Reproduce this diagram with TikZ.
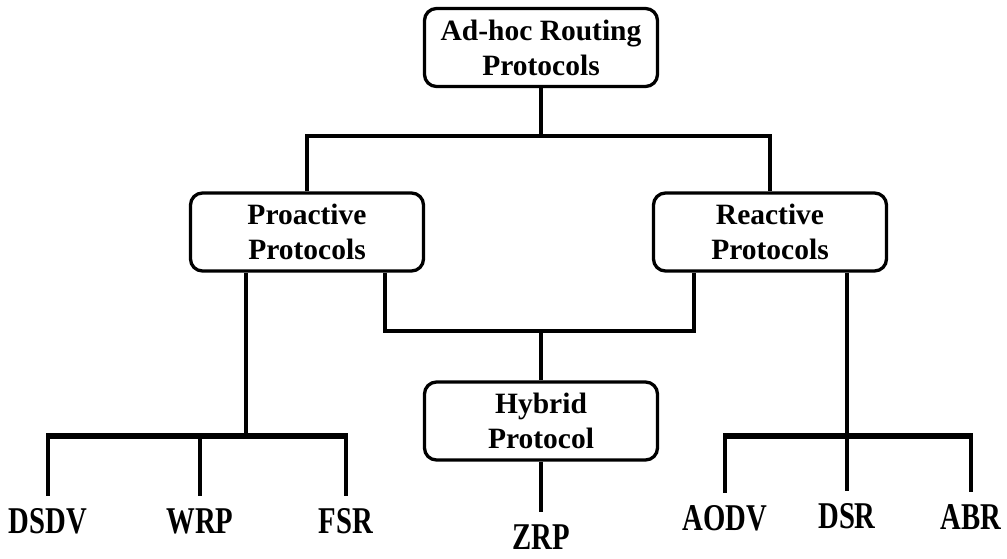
\documentclass[tikz,border=0pt]{standalone}
\usepackage{fontspec}
\setmainfont{Liberation Serif}
\newfontfamily\leaffont[FakeStretch=0.76]{Liberation Serif}
\tikzset{
protbox/.style={draw, line width=3.3pt, rounded corners=12pt, align=center,
  minimum width=233pt, minimum height=78pt, inner sep=0pt,
  font=\fontsize{29.5}{35}\selectfont\bfseries},
leaf/.style={inner sep=1pt, font=\leaffont\fontsize{37.8}{40}\selectfont\bfseries},
link/.style={line width=4.5pt},
leaflink/.style={link, shorten >=11pt},
bar/.style={line width=6pt}
}

\begin{document}
\begin{tikzpicture}[x=1pt, y=-1pt]
\useasboundingbox (0,0) rectangle (1007,558);
% boxes
\node[protbox] (top) at (541,47.5) {Ad-hoc Routing\\Protocols};
\node[protbox] (pro) at (307,232) {Proactive\\Protocols};
\node[protbox] (rea) at (770,232) {Reactive\\Protocols};
\node[protbox] (hyb) at (541,421) {Hybrid\\Protocol};
% protocols
\node[leaf, anchor=base] (dsdv) at (48,533) {DSDV};
\node[leaf, anchor=base] (wrp) at (200,533) {WRP};
\node[leaf, anchor=base] (fsr) at (346,533) {FSR};
\node[leaf, anchor=base] (zrp) at (541,549) {ZRP};
\node[leaf, anchor=base] (aodv) at (725,530) {AODV};
\node[leaf, anchor=base] (dsr) at (847,528) {DSR};
\node[leaf, anchor=base] (abr) at (971,529) {ABR};

\coordinate (tsplit) at (541,136);
\coordinate (mid) at (541,331);
\coordinate (pbar) at (246,436);
\coordinate (rbar) at (847,436);

\draw[link] (top.south) -- (tsplit);
\draw[link] (pro.north) |- (tsplit) -| (rea.north);
\draw[link] ([xshift=78pt]pro.south) |- (mid) -| ([xshift=-76pt]rea.south);
\draw[link] (mid) -- (hyb.north);
\draw[leaflink] (hyb.south) -- (zrp.north);

\draw[link] ([xshift=-61pt]pro.south) -- (pbar);
\draw[bar] ([xshift=-2pt]dsdv.north |- pbar) -- ([xshift=2pt]fsr.north |- pbar);
\draw[leaflink] (dsdv.north |- pbar) -- (dsdv.north);
\draw[leaflink] (wrp.north |- pbar) -- (wrp.north);
\draw[leaflink] (fsr.north |- pbar) -- (fsr.north);

\draw[link] ([xshift=77pt]rea.south) -- (rbar);
\draw[bar] ([xshift=-2pt]aodv.north |- rbar) -- ([xshift=2pt]abr.north |- rbar);
\draw[leaflink] (aodv.north |- rbar) -- (aodv.north);
\draw[leaflink] (dsr.north |- rbar) -- (dsr.north);
\draw[leaflink] (abr.north |- rbar) -- (abr.north);
\end{tikzpicture}
\end{document}
